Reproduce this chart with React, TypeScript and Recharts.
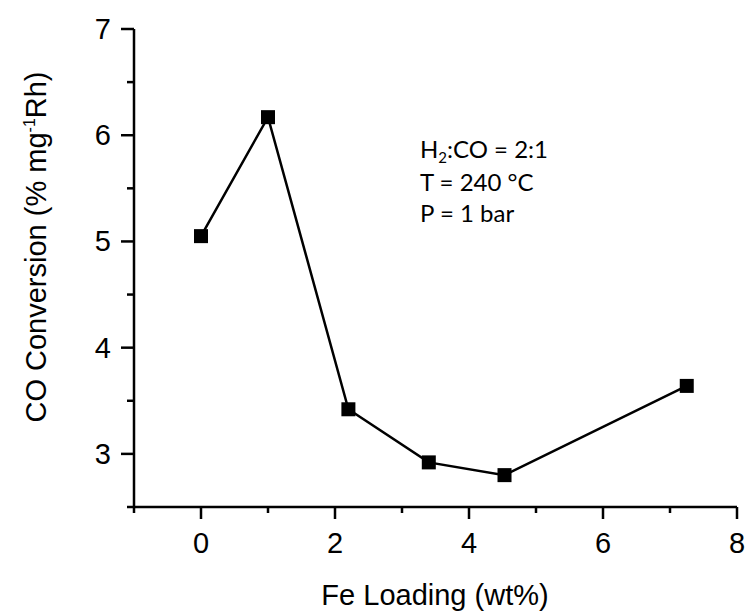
import * as React from "react";
import { LineChart, Line, XAxis, YAxis, Customized } from "recharts";

const feLoading = [0, 1, 2.2, 3.4, 4.53, 7.25];
const coConversion = [5.05, 6.17, 3.42, 2.92, 2.8, 3.64];
const xTicks = [-1, 0, 1, 2, 3, 4, 5, 6, 7, 8];
const xMajor = [0, 2, 4, 6, 8];
const yTicks = [2.5, 3, 3.5, 4, 4.5, 5, 5.5, 6, 6.5, 7];
const yMajor = [3, 4, 5, 6, 7];
const notes = ["H2:CO = 2:1", "T = 240 °C", "P = 1 bar"];

const data = feLoading.map((x, i) => ({ x, y: coConversion[i] }));

const AXIS_FONT = "'Liberation Sans', Arial, sans-serif";

const XTick = (props: any) => {
  const { x, y, payload } = props;
  const major = xMajor.includes(payload.value);
  return (
    <g>
      <line x1={x} x2={x} y1={y} y2={y + (major ? 12 : 6)} stroke="#000" strokeWidth={2.5} />
      {major && (
        <text x={x} y={y + 46} textAnchor="middle" fontFamily={AXIS_FONT} fontSize={29} fill="#000">
          {payload.value}
        </text>
      )}
    </g>
  );
};

const YTick = (props: any) => {
  const { x, y, payload } = props;
  const major = yMajor.includes(payload.value);
  return (
    <g>
      <line x1={x} x2={x - (major ? 13 : 7)} y1={y} y2={y} stroke="#000" strokeWidth={2.5} />
      {major && (
        <text x={x - 23} y={y + 10} textAnchor="end" fontFamily={AXIS_FONT} fontSize={29} fill="#000">
          {payload.value}
        </text>
      )}
    </g>
  );
};

const Square = (props: any) => {
  const { cx, cy } = props;
  if (cx == null || cy == null) return null;
  return <rect x={cx - 7} y={cy - 7} width={14} height={14} fill="#000" />;
};

const Notes = () => (
  <g fontFamily="Lato, 'Open Sans', sans-serif" fontSize={24} fill="#000">
    <text x={420} y={158}>
      H<tspan dy={5} fontSize={15}>2</tspan>
      <tspan dy={-5}>{notes[0].slice(2)}</tspan>
    </text>
    <text x={420} y={191}>{notes[1]}</text>
    <text x={420} y={222}>{notes[2]}</text>
  </g>
);

export default function App() {
  return (
    <div style={{ position: "absolute", left: 0, top: 0, background: "#fff" }}>
      <LineChart width={748} height={615} data={data} margin={{ top: 29, right: 11, bottom: 0, left: 0 }}>
        <XAxis
          dataKey="x"
          type="number"
          domain={[-1, 8]}
          ticks={xTicks}
          interval={0}
          height={108}
          tickSize={0}
          tickMargin={0}
          tickLine={false}
          tick={<XTick />}
          axisLine={{ stroke: "#000", strokeWidth: 2.5 }}
          allowDataOverflow
          label={{
            content: () => (
              <text x={435} y={605} textAnchor="middle" fontFamily={AXIS_FONT} fontSize={29} fill="#000">
                Fe Loading (wt%)
              </text>
            ),
          }}
        />
        <YAxis
          dataKey="y"
          type="number"
          domain={[2.5, 7]}
          ticks={yTicks}
          interval={0}
          width={134}
          tickSize={0}
          tickMargin={0}
          tickLine={false}
          tick={<YTick />}
          axisLine={{ stroke: "#000", strokeWidth: 2.5 }}
          allowDataOverflow
          label={{
            content: () => (
              <text
                transform="translate(46, 247) rotate(-90)"
                textAnchor="middle"
                fontFamily={AXIS_FONT}
                fontSize={29}
                fill="#000"
              >
                CO Conversion (% mg<tspan dy={-11} fontSize={16}>-1</tspan>
                <tspan dy={11}>Rh)</tspan>
              </text>
            ),
          }}
        />
        <Line
          type="linear"
          dataKey="y"
          stroke="#000"
          strokeWidth={2.5}
          dot={<Square />}
          activeDot={false}
          isAnimationActive={false}
        />
        <Customized component={Notes} />
      </LineChart>
    </div>
  );
}
